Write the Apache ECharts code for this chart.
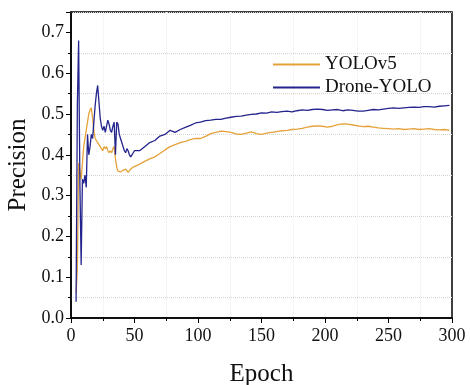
<!DOCTYPE html>
<html>
<head>
<meta charset="utf-8">
<script src="https://cdn.jsdelivr.net/npm/echarts@6/dist/echarts.min.js"></script>
<style>html,body{margin:0;padding:0;background:#fff;}#c{width:470px;height:385px;}</style>
</head>
<body>
<div id="c"></div>
<script>
const epochs = [4,5,6,7,8,9,10,11,12,13,14,15,16,17,18,19,20,21,22,23,24,25,26,27,28,29,30,31,32,33,34,35,36,37,38,39,40,41,42,43,44,45,46,47,48,49,50,
54,58,62,66,70,74,78,82,86,90,94,98,102,106,110,114,118,122,126,130,134,138,142,146,150,154,158,162,166,170,174,178,182,186,190,194,198,202,206,210,214,218,222,226,230,234,238,242,246,250,254,258,262,266,270,274,278,282,286,290,294,298];

const yolov5 = [0.06,0.12,0.38,0.36,0.34,0.38,0.42,0.44,0.46,0.48,0.50,0.51,0.515,0.49,0.46,0.44,0.435,0.43,0.425,0.42,0.415,0.41,0.42,0.415,0.42,0.41,0.405,0.41,0.405,0.415,0.42,0.39,0.37,0.36,0.357,0.358,0.36,0.362,0.358,0.365,0.362,0.357,0.36,0.365,0.368,0.37,0.373,
0.377,0.384,0.39,0.395,0.403,0.412,0.42,0.425,0.43,0.433,0.437,0.44,0.44,0.445,0.452,0.455,0.458,0.457,0.455,0.451,0.45,0.453,0.456,0.452,0.45,0.453,0.455,0.457,0.459,0.46,0.462,0.463,0.465,0.468,0.47,0.471,0.47,0.468,0.47,0.474,0.476,0.475,0.473,0.471,0.469,0.47,0.468,0.466,0.465,0.464,0.463,0.464,0.462,0.463,0.464,0.462,0.463,0.464,0.462,0.461,0.462,0.46];

const droneYolo = [0.04,0.52,0.68,0.33,0.13,0.34,0.33,0.35,0.32,0.45,0.40,0.42,0.45,0.44,0.48,0.52,0.55,0.57,0.53,0.49,0.47,0.46,0.47,0.455,0.47,0.485,0.475,0.46,0.455,0.47,0.48,0.40,0.48,0.475,0.45,0.44,0.43,0.42,0.41,0.405,0.415,0.41,0.40,0.395,0.40,0.405,0.41,
0.41,0.42,0.43,0.435,0.446,0.45,0.46,0.455,0.462,0.467,0.472,0.478,0.48,0.484,0.485,0.487,0.487,0.49,0.492,0.494,0.495,0.497,0.499,0.50,0.503,0.502,0.505,0.504,0.506,0.507,0.505,0.508,0.51,0.509,0.511,0.512,0.511,0.509,0.51,0.511,0.508,0.51,0.509,0.507,0.507,0.509,0.511,0.51,0.512,0.514,0.515,0.514,0.515,0.516,0.517,0.516,0.518,0.518,0.517,0.519,0.52,0.521];

const seriesNames = ['YOLOv5', 'Drone-YOLO'];
const xTicks = [0, 50, 100, 150, 200, 250, 300];
const yTicks = [0.0, 0.1, 0.2, 0.3, 0.4, 0.5, 0.6, 0.7];

const FONT = '"Liberation Serif", "Times New Roman", serif';
const pair = arr => epochs.map((e, i) => [e, arr[i]]);

const chart = echarts.init(document.getElementById('c'), null, {renderer: 'canvas'});
chart.setOption({
  animation: false,
  backgroundColor: '#fff',
  grid: {left: 71, right: 18, top: 12, bottom: 67, show: true, borderColor: '#000', borderWidth: 1.5,
    backgroundColor: 'transparent', containLabel: false, outerBoundsMode: 'none'},
  legend: {
    orient: 'vertical', left: 268, top: 50, itemWidth: 47, itemHeight: 2, itemGap: 4,
    icon: 'rect',
    textStyle: {fontFamily: FONT, fontSize: 19, color: '#111'},
    data: seriesNames
  },
  xAxis: [{
    type: 'value', min: 0, max: 300, interval: 50,
    name: 'Epoch', nameLocation: 'middle', nameGap: 44,
    nameTextStyle: {fontFamily: FONT, fontSize: 25, color: '#111'},
    axisLine: {show: true, onZero: false, lineStyle: {color: '#000', width: 1.5}},
    axisTick: {show: true, inside: false, length: 5, lineStyle: {color: '#000'}},
    minorTick: {show: true, splitNumber: 2, length: 3, lineStyle: {color: '#000'}},
    axisLabel: {fontFamily: FONT, fontSize: 18, color: '#111', margin: 9,
      formatter: v => xTicks.indexOf(v) >= 0 ? String(v) : ''},
    splitLine: {show: false}
  }, {
    type: 'value', min: 0, max: 300, interval: 25, position: 'top',
    axisLine: {show: false}, axisTick: {show: false}, axisLabel: {show: false},
    splitLine: {show: true, lineStyle: {color: ['rgba(0,0,0,0)', '#ebebeb'], type: 'dotted', width: 1}}
  }],
  yAxis: [{
    type: 'value', min: 0, max: 0.75, interval: 0.1,
    name: 'Precision', nameLocation: 'middle', nameGap: 39,
    nameTextStyle: {fontFamily: FONT, fontSize: 25, color: '#111'},
    axisLine: {show: true, lineStyle: {color: '#000', width: 1.5}},
    axisTick: {show: true, inside: false, length: 5, lineStyle: {color: '#000'}},
    minorTick: {show: true, splitNumber: 2, length: 3, lineStyle: {color: '#000'}},
    axisLabel: {fontFamily: FONT, fontSize: 18, color: '#111', margin: 7, showMaxLabel: false,
      formatter: v => {
        const m = yTicks.find(t => Math.abs(t - v) < 1e-6);
        return m === undefined ? '' : m.toFixed(1);
      }},
    splitLine: {show: false}
  }, {
    type: 'value', min: 0, max: 0.75, interval: 0.05, position: 'right',
    axisLine: {show: false}, axisTick: {show: false}, axisLabel: {show: false},
    splitLine: {show: true, lineStyle: {color: ['rgba(0,0,0,0)', '#d4d4d4'], type: 'dotted', width: 1}}
  }],
  series: [{
    name: seriesNames[0], type: 'line', data: pair(yolov5), symbol: 'none',
    lineStyle: {color: '#E5A23A', width: 1.3}, itemStyle: {color: '#E5A23A'}, z: 3
  }, {
    name: seriesNames[1], type: 'line', data: pair(droneYolo), symbol: 'none',
    lineStyle: {color: '#24248E', width: 1.3}, itemStyle: {color: '#24248E'}, z: 4
  }]
});
</script>
</body>
</html>
